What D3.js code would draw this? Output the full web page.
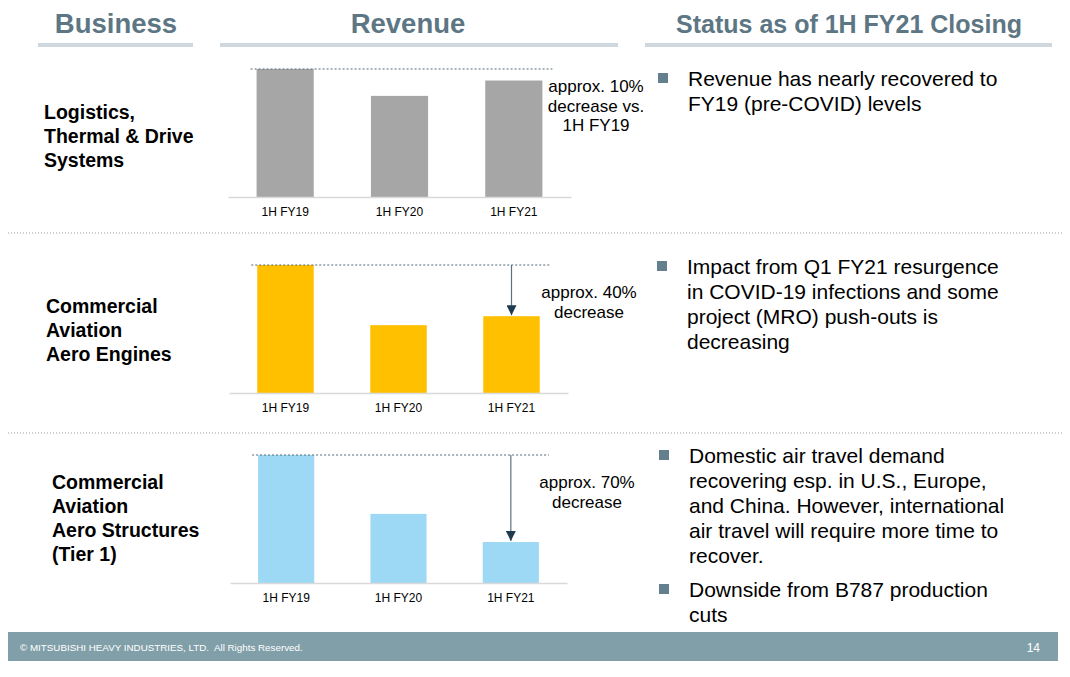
<!doctype html>
<html lang="en">
<head>
	<meta charset="UTF-8">
	<title>Revenue status 1H FY21</title>
	<style>
		body { margin: 0; background: #fff; }
		svg { display: block; font-family: "Liberation Sans", Arial, sans-serif; }
		.head { fill: #5d7684; font-weight: bold; text-anchor: middle; }
		.biz { font-weight: bold; font-size: 19.5px; fill: #000; }
		.tick-label { font-size: 12px; fill: #000; text-anchor: middle; }
		.note { font-size: 17px; fill: #000; text-anchor: middle; }
		.bullet-text { font-size: 21px; fill: #000; }
	</style>
</head>
<body>
	<script src="https://cdn.jsdelivr.net/npm/d3@7"></script>
	<script>
		// data (1H FY19 = 100)
		var categories = ['1H FY19', '1H FY20', '1H FY21'],
			logisticsValues = [100, 79, 91],
			enginesValues = [100, 53, 60],
			structuresValues = [100, 54, 32];

		var headers = ['Business', 'Revenue', 'Status as of 1H FY21 Closing'];

		var bizNames = [
			['Logistics,', 'Thermal & Drive', 'Systems'],
			['Commercial', 'Aviation', 'Aero Engines'],
			['Commercial', 'Aviation', 'Aero Structures', '(Tier 1)']
		];

		var notes = [
			['approx. 10%', 'decrease vs.', '1H FY19'],
			['approx. 40%', 'decrease'],
			['approx. 70%', 'decrease']
		];

		var bullets = [
			[['Revenue has nearly recovered to', 'FY19 (pre-COVID) levels']],
			[['Impact from Q1 FY21 resurgence', 'in COVID-19 infections and some', 'project (MRO) push-outs is', 'decreasing']],
			[['Domestic air travel demand', 'recovering esp. in U.S., Europe,', 'and China. However, international', 'air travel will require more time to', 'recover.'],
			 ['Downside from B787 production', 'cuts']]
		];

		var w = 1070,
			h = 677;

		var svg = d3.select('body')
			.append('svg')
			.attr('width', w)
			.attr('height', h);

		// arrow marker
		svg.append('defs').append('marker')
			.attr('id', 'arrow')
			.attr('viewBox', '0 0 10 10')
			.attr('refX', 10)
			.attr('refY', 5)
			.attr('markerWidth', 10)
			.attr('markerHeight', 10)
			.attr('markerUnits', 'userSpaceOnUse')
			.attr('orient', 'auto')
			.append('path')
			.attr('d', 'M0,0 L10,5 L0,10 z')
			.attr('fill', '#1f3b4d');

		/**
		* column headers with underlines
		*/
		var drawHeaders = function() {
			var cols = [
				{x0: 38, x1: 193, tx: 116, size: 27.5},
				{x0: 220, x1: 618, tx: 408, size: 27.5},
				{x0: 645, x1: 1052, tx: 849, size: 25}
			];
			cols.forEach(function(c, i) {
				svg.append('text')
					.attr('class', 'head')
					.attr('x', c.tx)
					.attr('y', 33)
					.style('font-size', c.size + 'px')
					.text(headers[i]);
				svg.append('rect')
					.attr('x', c.x0)
					.attr('y', 43)
					.attr('width', c.x1 - c.x0)
					.attr('height', 4)
					.attr('fill', '#cfd8de');
			});
		};

		/**
		* draw one bar panel
		*/
		var drawPanel = function(p) {
			var g = svg.append('g');

			var xScale = d3.scaleBand()
				.domain(categories)
				.range([p.x0, p.x1])
				.paddingInner(0.5)
				.paddingOuter(0.25);

			var yScale = d3.scaleLinear()
				.domain([0, 100])
				.range([p.base, p.base - 128]);

			g.selectAll('rect.bar')
				.data(p.values)
				.enter()
				.append('rect')
				.attr('class', 'bar')
				.attr('x', function(d, i) { return xScale(categories[i]); })
				.attr('y', function(d) { return yScale(d); })
				.attr('width', xScale.bandwidth())
				.attr('height', function(d) { return p.base - yScale(d); })
				.attr('fill', p.color);

			var axis = g.append('g')
				.attr('transform', 'translate(0,' + p.base + ')')
				.call(d3.axisBottom(xScale).tickSize(0).tickPadding(10));
			axis.select('.domain')
				.attr('stroke', '#d9d9d9')
				.attr('stroke-width', 1.5);
			axis.selectAll('text')
				.attr('class', 'tick-label')
				.attr('font-family', null)
				.attr('font-size', null)
				.attr('fill', '#000');

			// reference line at 1H FY19 level
			var refY = yScale(p.values[0]);
			g.append('line')
				.attr('x1', xScale(categories[0]) - 6)
				.attr('x2', xScale(categories[2]) + xScale.bandwidth() + 10)
				.attr('y1', refY)
				.attr('y2', refY)
				.attr('stroke', '#4e6877')
				.attr('stroke-width', 1)
				.attr('stroke-dasharray', '2,2');

			if (p.arrow) {
				var ax = xScale(categories[2]) + xScale.bandwidth() / 2;
				g.append('line')
					.attr('x1', ax)
					.attr('x2', ax)
					.attr('y1', refY)
					.attr('y2', yScale(p.values[2]) - 1)
					.attr('stroke', '#5a7382')
					.attr('stroke-width', 1.2)
					.attr('marker-end', 'url(#arrow)');
			}

			g.append('text')
				.attr('class', 'note')
				.attr('x', p.noteX)
				.attr('y', p.noteY)
				.selectAll('tspan')
				.data(p.note)
				.enter()
				.append('tspan')
				.attr('x', p.noteX)
				.attr('dy', function(d, i) { return i ? 19.5 : 0; })
				.text(function(d) { return d; });

			// business name
			g.append('text')
				.attr('class', 'biz')
				.attr('y', p.bizY)
				.selectAll('tspan')
				.data(p.biz)
				.enter()
				.append('tspan')
				.attr('x', p.bizX)
				.attr('dy', function(d, i) { return i ? 24 : 0; })
				.text(function(d) { return d; });

			// bullets
			var by = p.bulletY;
			p.bullets.forEach(function(lines) {
				g.append('rect')
					.attr('x', p.bulletX)
					.attr('y', by - 13)
					.attr('width', 10)
					.attr('height', 10)
					.attr('fill', '#64808f');
				g.append('text')
					.attr('class', 'bullet-text')
					.attr('y', by)
					.selectAll('tspan')
					.data(lines)
					.enter()
					.append('tspan')
					.attr('x', p.bulletX + 30)
					.attr('dy', function(d, i) { return i ? 25 : 0; })
					.text(function(d) { return d; });
				by += lines.length * 25 + 9;
			});
		};

		var drawSeparators = function() {
			[233, 433].forEach(function(y) {
				svg.append('line')
					.attr('x1', 8)
					.attr('x2', 1062)
					.attr('y1', y)
					.attr('y2', y)
					.attr('stroke', '#9a9a9a')
					.attr('stroke-width', 1)
					.attr('stroke-dasharray', '1,2');
			});
		};

		var drawFooter = function() {
			svg.append('rect')
				.attr('x', 8)
				.attr('y', 632)
				.attr('width', 1050)
				.attr('height', 29)
				.attr('fill', '#819fa9');
			svg.append('text')
				.attr('x', 20)
				.attr('y', 651)
				.attr('fill', '#fff')
				.attr('xml:space', 'preserve')
				.style('font-size', '9.8px')
				.text('\u00a9 MITSUBISHI HEAVY INDUSTRIES, LTD.  All Rights Reserved.');
			svg.append('text')
				.attr('x', 1040)
				.attr('y', 652)
				.attr('fill', '#fff')
				.attr('text-anchor', 'end')
				.style('font-size', '12px')
				.text('14');
		};

		drawHeaders();
		drawSeparators();

		var panels = [
			{values: logisticsValues, color: '#a6a6a6', x0: 228, x1: 571, base: 197, arrow: false,
				note: notes[0], noteX: 596, noteY: 92, biz: bizNames[0], bizX: 44, bizY: 119,
				bullets: bullets[0], bulletX: 658, bulletY: 86},
			{values: enginesValues, color: '#ffc000', x0: 229, x1: 568, base: 393, arrow: true,
				note: notes[1], noteX: 589, noteY: 298, biz: bizNames[1], bizX: 46, bizY: 313,
				bullets: bullets[1], bulletX: 657, bulletY: 274},
			{values: structuresValues, color: '#9dd9f5', x0: 230, x1: 567, base: 583, arrow: true,
				note: notes[2], noteX: 587, noteY: 488, biz: bizNames[2], bizX: 52, bizY: 489,
				bullets: bullets[2], bulletX: 659, bulletY: 463}
		];
		panels.forEach(drawPanel);

		drawFooter();
	</script>
</body>
</html>
